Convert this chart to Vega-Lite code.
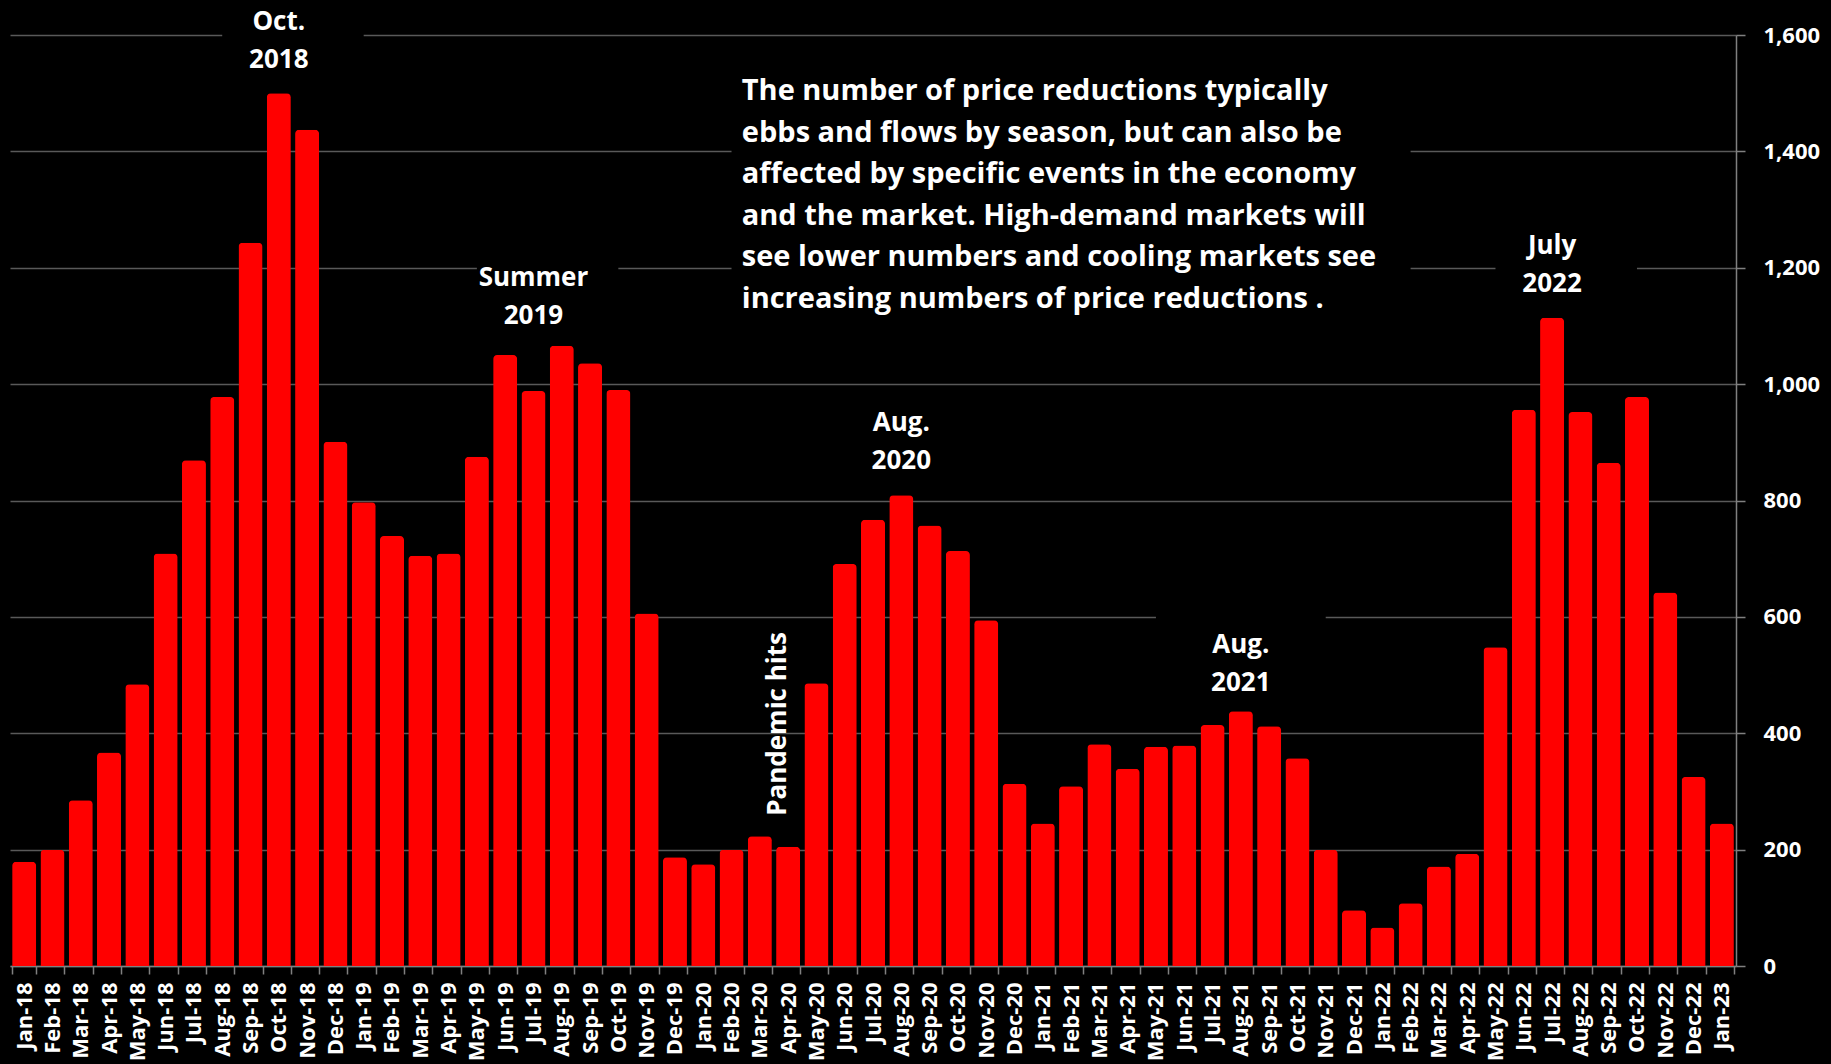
{
  "$schema": "https://vega.github.io/schema/vega-lite/v6.json",
  "width": 1726,
  "height": 931,
  "autosize": {"type": "none"},
  "padding": {"left": 10, "top": 35, "right": 95, "bottom": 98},
  "background": "#000000",
  "config": {"view": {"stroke": null}},
  "datasets": {
    "bars": [
      {"month": "Jan-18", "value": 179}, {"month": "Feb-18", "value": 200}, {"month": "Mar-18", "value": 285}, {"month": "Apr-18", "value": 367},
      {"month": "May-18", "value": 484}, {"month": "Jun-18", "value": 709}, {"month": "Jul-18", "value": 869}, {"month": "Aug-18", "value": 978},
      {"month": "Sep-18", "value": 1243}, {"month": "Oct-18", "value": 1500}, {"month": "Nov-18", "value": 1437}, {"month": "Dec-18", "value": 901},
      {"month": "Jan-19", "value": 797}, {"month": "Feb-19", "value": 739}, {"month": "Mar-19", "value": 705}, {"month": "Apr-19", "value": 709},
      {"month": "May-19", "value": 875}, {"month": "Jun-19", "value": 1050}, {"month": "Jul-19", "value": 988}, {"month": "Aug-19", "value": 1066},
      {"month": "Sep-19", "value": 1036}, {"month": "Oct-19", "value": 990}, {"month": "Nov-19", "value": 606}, {"month": "Dec-19", "value": 187},
      {"month": "Jan-20", "value": 175}, {"month": "Feb-20", "value": 200}, {"month": "Mar-20", "value": 223}, {"month": "Apr-20", "value": 205},
      {"month": "May-20", "value": 486}, {"month": "Jun-20", "value": 691}, {"month": "Jul-20", "value": 767}, {"month": "Aug-20", "value": 809},
      {"month": "Sep-20", "value": 757}, {"month": "Oct-20", "value": 713}, {"month": "Nov-20", "value": 594}, {"month": "Dec-20", "value": 313},
      {"month": "Jan-21", "value": 245}, {"month": "Feb-21", "value": 309}, {"month": "Mar-21", "value": 381}, {"month": "Apr-21", "value": 339},
      {"month": "May-21", "value": 377}, {"month": "Jun-21", "value": 379}, {"month": "Jul-21", "value": 414}, {"month": "Aug-21", "value": 438},
      {"month": "Sep-21", "value": 412}, {"month": "Oct-21", "value": 357}, {"month": "Nov-21", "value": 200}, {"month": "Dec-21", "value": 96},
      {"month": "Jan-22", "value": 66}, {"month": "Feb-22", "value": 108}, {"month": "Mar-22", "value": 171}, {"month": "Apr-22", "value": 193},
      {"month": "May-22", "value": 548}, {"month": "Jun-22", "value": 956}, {"month": "Jul-22", "value": 1114}, {"month": "Aug-22", "value": 952},
      {"month": "Sep-22", "value": 865}, {"month": "Oct-22", "value": 978}, {"month": "Nov-22", "value": 642}, {"month": "Dec-22", "value": 325},
      {"month": "Jan-23", "value": 245}
    ],
    "boxes": [
      {"from": "Aug-18", "to": "Jan-19", "y1": 1540, "y2": 1700},
      {"from": "May-19", "to": "Oct-19", "y1": 1090, "y2": 1260},
      {"from": "Feb-20", "to": "Feb-22", "y1": 1090, "y2": 1560},
      {"from": "May-22", "to": "Oct-22", "y1": 1140, "y2": 1290},
      {"from": "May-21", "to": "Nov-21", "y1": 570, "y2": 650}
    ],
    "notes": [
      {"month": "Oct-18", "y": 1622, "lines": ["Oct.", "2018"]},
      {"month": "Jul-19", "y": 1182, "lines": ["Summer", "2019"]},
      {"month": "Aug-20", "y": 934, "lines": ["Aug.", "2020"]},
      {"month": "Aug-21", "y": 552, "lines": ["Aug.", "2021"]},
      {"month": "Jul-22", "y": 1237, "lines": ["July", "2022"]}
    ],
    "pandemic": [{"month": "Apr-20", "y": 416, "label": "Pandemic hits"}],
    "para": [{"month": "Mar-20", "y": 1503, "lines": [
      "The number of price reductions typically",
      "ebbs and flows by season, but can also be",
      "affected by specific events in the economy",
      "and the market. High-demand markets will",
      "see lower numbers and cooling markets see",
      "increasing numbers of price reductions ."
    ]}]
  },
  "layer": [
    {
      "data": {"name": "bars"},
      "mark": {"type": "bar", "color": "#FF0000", "cornerRadiusTopLeft": 4, "cornerRadiusTopRight": 4},
      "encoding": {
        "x": {
          "field": "month", "type": "nominal", "sort": null,
          "scale": {"paddingInner": 0.15, "paddingOuter": 0.075},
          "axis": {
            "title": null, "labelAngle": -90, "labelAlign": "right", "labelBaseline": "middle",
            "tickBand": "extent", "domainColor": "#808080", "domainWidth": 1.5, "tickColor": "#808080", "tickWidth": 1.5,
            "tickSize": 8, "labelPadding": 8, "labelColor": "#FFFFFF", "labelFont": "Open Sans",
            "labelFontSize": 22, "labelFontWeight": "bold", "labelOverlap": false
          }
        },
        "y": {
          "field": "value", "type": "quantitative",
          "scale": {"domain": [0, 1600], "nice": false},
          "axis": {
            "title": null, "orient": "right", "values": [0, 200, 400, 600, 800, 1000, 1200, 1400, 1600],
            "format": ",.0f", "grid": true, "gridColor": "#595959", "gridWidth": 1.5,
            "domainColor": "#808080", "domainWidth": 1.5, "tickColor": "#808080", "tickWidth": 1.5, "tickSize": 9,
            "labelPadding": 18, "labelAlign": "left", "labelColor": "#FFFFFF", "labelFont": "Open Sans",
            "labelFontSize": 22, "labelFontWeight": "bold"
          }
        }
      }
    },
    {
      "data": {"name": "boxes"},
      "mark": {"type": "rect", "color": "#000000"},
      "encoding": {
        "x": {"field": "from", "type": "nominal", "sort": null},
        "x2": {"field": "to"},
        "y": {"field": "y1", "type": "quantitative"},
        "y2": {"field": "y2"}
      }
    },
    {
      "data": {"name": "notes"},
      "mark": {"type": "text", "color": "#FFFFFF", "font": "Open Sans", "fontSize": 26, "fontWeight": "bold", "align": "center", "baseline": "middle", "lineHeight": 38},
      "encoding": {
        "x": {"field": "month", "type": "nominal", "sort": null},
        "y": {"field": "y", "type": "quantitative"},
        "text": {"field": "lines"}
      }
    },
    {
      "data": {"name": "pandemic"},
      "mark": {"type": "text", "color": "#FFFFFF", "font": "Open Sans", "fontSize": 26, "fontWeight": "bold", "align": "center", "baseline": "middle", "angle": 270, "xOffset": -10},
      "encoding": {
        "x": {"field": "month", "type": "nominal", "sort": null},
        "y": {"field": "y", "type": "quantitative"},
        "text": {"field": "label"}
      }
    },
    {
      "data": {"name": "para"},
      "mark": {"type": "text", "color": "#FFFFFF", "font": "Open Sans", "fontSize": 29, "fontWeight": "bold", "align": "left", "baseline": "middle", "lineHeight": 41.5, "xOffset": -6},
      "encoding": {
        "x": {"field": "month", "type": "nominal", "sort": null, "bandPosition": 0},
        "y": {"field": "y", "type": "quantitative"},
        "text": {"field": "lines"}
      }
    }
  ]
}
